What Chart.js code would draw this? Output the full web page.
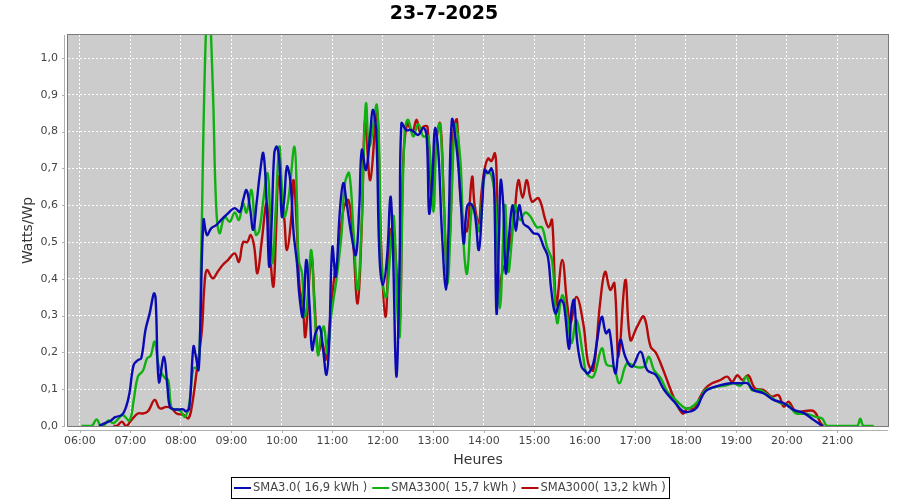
<!DOCTYPE html>
<html><head><meta charset="utf-8">
<script src="https://cdn.jsdelivr.net/npm/chart.js@4.4.1/dist/chart.umd.min.js"></script>
<style>html,body{margin:0;padding:0;background:#fff}#wrap{width:900px;height:500px}</style>
</head><body><div id="wrap"><canvas id="c" width="900" height="500"></canvas></div>
<script>
const chartTitle = "23-7-2025";
const xAxisTitle = "Heures";
const yAxisTitle = "Watts/Wp";
const hourTicks = ["06:00","07:00","08:00","09:00","10:00","11:00","12:00","13:00","14:00","15:00","16:00","17:00","18:00","19:00","20:00","21:00"];
const yTicks = [0,0.1,0.2,0.3,0.4,0.5,0.6,0.7,0.8,0.9,1.0];
const seriesNames = ["SMA3.0( 16,9 kWh )","SMA3300( 15,7 kWh )","SMA3000( 13,2 kWh )"];
const seriesColors = ["#0a0ab4","#10b010","#b40a0a"];

// [time, Watts/Wp]
const sma30 = [["06:23",0.00],["06:30",0.008],["06:37",0.015],["06:42",0.024],["06:50",0.03],["06:55",0.052],["06:59",0.089],["07:04",0.166],["07:09",0.179],["07:13",0.184],["07:18",0.261],["07:23",0.306],["07:28",0.36],["07:30",0.35],["07:34",0.12],["07:40",0.188],["07:44",0.11],["07:47",0.052],["07:52",0.045],["07:57",0.045],["08:03",0.045],["08:06",0.04],["08:10",0.048],["08:15",0.216],["08:18",0.188],["08:21",0.152],["08:23",0.26],["08:27",0.56],["08:31",0.519],["08:36",0.537],["08:42",0.546],["08:48",0.56],["08:56",0.578],["09:04",0.592],["09:10",0.582],["09:14",0.614],["09:18",0.641],["09:22",0.596],["09:26",0.533],["09:30",0.605],["09:34",0.687],["09:38",0.741],["09:42",0.605],["09:45",0.433],["09:48",0.56],["09:51",0.741],["09:54",0.759],["09:57",0.72],["10:00",0.569],["10:03",0.62],["10:06",0.705],["10:10",0.668],["10:14",0.524],["10:18",0.442],["10:21",0.351],["10:25",0.297],["10:29",0.451],["10:33",0.324],["10:36",0.207],["10:40",0.252],["10:45",0.27],["10:49",0.207],["10:53",0.139],["10:56",0.216],["11:00",0.487],["11:04",0.406],["11:09",0.587],["11:13",0.66],["11:17",0.605],["11:23",0.514],["11:28",0.465],["11:32",0.596],["11:35",0.75],["11:40",0.696],["11:45",0.795],["11:48",0.859],["11:52",0.804],["11:56",0.46],["12:00",0.383],["12:05",0.46],["12:09",0.623],["12:12",0.478],["12:16",0.134],["12:20",0.46],["12:22",0.822],["12:28",0.804],["12:34",0.804],["12:42",0.791],["12:48",0.81],["12:52",0.787],["12:55",0.578],["12:59",0.687],["13:02",0.809],["13:06",0.741],["13:10",0.533],["13:15",0.37],["13:18",0.533],["13:22",0.832],["13:27",0.768],["13:32",0.632],["13:36",0.496],["13:40",0.596],["13:44",0.605],["13:49",0.58],["13:54",0.478],["13:58",0.60],["14:01",0.696],["14:05",0.687],["14:09",0.70],["14:12",0.66],["14:15",0.306],["14:18",0.52],["14:20",0.668],["14:23",0.60],["14:26",0.415],["14:30",0.52],["14:34",0.60],["14:38",0.53],["14:42",0.60],["14:47",0.55],["14:53",0.54],["14:59",0.524],["15:05",0.52],["15:11",0.487],["15:16",0.46],["15:20",0.37],["15:25",0.306],["15:31",0.342],["15:35",0.33],["15:41",0.21],["15:44",0.315],["15:47",0.342],["15:51",0.225],["15:56",0.161],["16:00",0.15],["16:04",0.143],["16:10",0.17],["16:14",0.225],["16:20",0.297],["16:25",0.252],["16:29",0.261],["16:36",0.143],["16:42",0.234],["16:48",0.188],["16:56",0.161],["17:06",0.202],["17:14",0.152],["17:24",0.139],["17:34",0.098],["17:46",0.066],["17:57",0.039],["18:06",0.04],["18:13",0.05],["18:19",0.08],["18:25",0.098],["18:41",0.111],["18:53",0.116],["19:05",0.116],["19:13",0.116],["19:20",0.098],["19:32",0.089],["19:44",0.071],["19:56",0.062],["20:08",0.044],["20:20",0.035],["20:32",0.016],["20:42",0.0]];

const sma3300 = [["06:02",0],["06:14",0],["06:20",0.018],["06:25",0],["06:30",0.005],["06:34",0.015],["06:40",0.008],["06:46",0.02],["06:51",0.03],["06:59",0.015],["07:04",0.07],["07:09",0.134],["07:15",0.15],["07:20",0.184],["07:24",0.19],["07:29",0.229],["07:34",0.161],["07:41",0.13],["07:45",0.125],["07:49",0.048],["07:55",0.045],["08:00",0.04],["08:05",0.025],["08:10",0.06],["08:15",0.157],["08:21",0.16],["08:24",0.44],["08:29",1.01],["08:33",1.17],["08:38",0.92],["08:42",0.596],["08:46",0.524],["08:52",0.569],["08:58",0.555],["09:04",0.58],["09:09",0.56],["09:14",0.605],["09:18",0.58],["09:24",0.641],["09:29",0.52],["09:33",0.53],["09:38",0.614],["09:43",0.687],["09:46",0.578],["09:49",0.442],["09:53",0.60],["09:57",0.759],["10:00",0.65],["10:03",0.569],["10:08",0.62],["10:15",0.759],["10:18",0.605],["10:20",0.451],["10:24",0.415],["10:27",0.297],["10:30",0.33],["10:35",0.478],["10:39",0.31],["10:43",0.193],["10:46",0.24],["10:50",0.27],["10:54",0.197],["10:59",0.306],["11:05",0.40],["11:11",0.524],["11:15",0.66],["11:20",0.687],["11:25",0.533],["11:30",0.37],["11:34",0.506],["11:37",0.714],["11:40",0.877],["11:44",0.759],["11:53",0.87],["11:59",0.406],["12:04",0.351],["12:09",0.478],["12:13",0.569],["12:17",0.324],["12:20",0.243],["12:22",0.46],["12:26",0.804],["12:30",0.832],["12:36",0.787],["12:42",0.82],["12:48",0.787],["12:54",0.787],["13:00",0.582],["13:04",0.787],["13:08",0.82],["13:13",0.569],["13:17",0.388],["13:22",0.641],["13:26",0.82],["13:32",0.723],["13:36",0.49],["13:40",0.415],["13:46",0.60],["13:50",0.57],["13:55",0.53],["13:59",0.65],["14:03",0.69],["14:09",0.68],["14:14",0.60],["14:19",0.32],["14:25",0.60],["14:29",0.42],["14:33",0.50],["14:37",0.60],["14:43",0.56],["14:49",0.58],["14:55",0.57],["15:03",0.54],["15:09",0.54],["15:15",0.486],["15:21",0.45],["15:27",0.28],["15:33",0.355],["15:39",0.297],["15:44",0.225],["15:50",0.288],["15:58",0.188],["16:02",0.143],["16:10",0.134],["16:20",0.211],["16:26",0.166],["16:34",0.161],["16:41",0.116],["16:50",0.17],["17:00",0.161],["17:10",0.161],["17:16",0.188],["17:22",0.152],["17:30",0.13],["17:38",0.093],["17:46",0.075],["17:56",0.053],["18:02",0.047],["18:10",0.057],["18:17",0.075],["18:23",0.098],["18:29",0.102],["18:37",0.107],["18:47",0.11],["18:57",0.116],["19:05",0.11],["19:12",0.134],["19:18",0.098],["19:28",0.098],["19:40",0.08],["19:52",0.062],["20:02",0.057],["20:10",0.035],["20:24",0.033],["20:34",0.025],["20:42",0.02],["20:48",0],["21:23",0],["21:27",0.02],["21:31",0],["21:43",0]];

const sma3000 = [["06:40",0],["06:44",0],["06:50",0.012],["06:55",0],["07:01",0.015],["07:09",0.034],["07:15",0.034],["07:21",0.04],["07:29",0.071],["07:35",0.048],["07:43",0.052],["07:49",0.048],["07:55",0.034],["08:03",0.03],["08:09",0.021],["08:13",0.052],["08:19",0.152],["08:25",0.26],["08:28",0.38],["08:31",0.424],["08:38",0.401],["08:44",0.42],["08:50",0.438],["08:56",0.451],["09:04",0.469],["09:09",0.446],["09:14",0.50],["09:19",0.50],["09:23",0.519],["09:27",0.49],["09:31",0.415],["09:36",0.50],["09:42",0.605],["09:46",0.469],["09:50",0.379],["09:53",0.52],["09:56",0.677],["10:00",0.614],["10:03",0.56],["10:06",0.478],["10:11",0.56],["10:14",0.668],["10:18",0.53],["10:21",0.379],["10:25",0.324],["10:28",0.243],["10:35",0.46],["10:39",0.33],["10:43",0.20],["10:48",0.225],["10:52",0.18],["10:57",0.28],["11:03",0.42],["11:07",0.46],["11:13",0.587],["11:19",0.614],["11:24",0.524],["11:30",0.333],["11:35",0.551],["11:39",0.832],["11:45",0.668],["11:53",0.859],["11:57",0.551],["12:03",0.297],["12:09",0.533],["12:14",0.496],["12:20",0.279],["12:24",0.711],["12:29",0.822],["12:35",0.80],["12:40",0.832],["12:44",0.80],["12:48",0.813],["12:53",0.813],["12:58",0.605],["13:03",0.769],["13:08",0.822],["13:12",0.641],["13:16",0.433],["13:20",0.533],["13:24",0.804],["13:28",0.832],["13:32",0.62],["13:36",0.55],["13:40",0.53],["13:46",0.677],["13:49",0.60],["13:54",0.55],["13:57",0.63],["14:01",0.70],["14:05",0.727],["14:09",0.72],["14:13",0.741],["14:15",0.69],["14:18",0.36],["14:22",0.42],["14:27",0.45],["14:31",0.50],["14:36",0.57],["14:41",0.668],["14:46",0.62],["14:51",0.668],["14:57",0.61],["15:05",0.619],["15:13",0.56],["15:17",0.54],["15:21",0.56],["15:26",0.33],["15:33",0.451],["15:39",0.33],["15:43",0.279],["15:50",0.351],["15:58",0.279],["16:04",0.17],["16:10",0.152],["16:18",0.333],["16:24",0.419],["16:30",0.37],["16:35",0.388],["16:40",0.188],["16:48",0.397],["16:54",0.234],["17:02",0.27],["17:10",0.297],["17:18",0.216],["17:24",0.20],["17:30",0.17],["17:36",0.134],["17:46",0.075],["17:56",0.034],["18:02",0.048],["18:10",0.048],["18:17",0.08],["18:23",0.102],["18:31",0.116],["18:41",0.125],["18:49",0.134],["18:55",0.12],["19:01",0.138],["19:07",0.125],["19:14",0.138],["19:22",0.102],["19:32",0.098],["19:42",0.08],["19:50",0.084],["19:56",0.053],["20:02",0.066],["20:10",0.04],["20:20",0.04],["20:32",0.04],["20:40",0.008],["20:43",0]];

const xMin = "05:46", xMax = "22:00";
const yMax = 1.0625;

function toMin(t){ const p = t.split(":"); return (+p[0])*60 + (+p[1]); }
function fmtMin(m){ const h = Math.floor(m/60), mm = Math.round(m%60); return String(h).padStart(2,"0")+":"+String(mm).padStart(2,"0"); }
const toPoints = arr => arr.map(([t,v]) => ({x: toMin(t), y: v}));
const FONT = '"DejaVu Sans", Verdana, sans-serif';

const framePlugin = {
  id: 'frame',
  beforeDraw(chart){
    const {ctx, chartArea:a} = chart;
    ctx.save();
    ctx.fillStyle = '#cccccc';
    ctx.fillRect(a.left, a.top, a.right-a.left, a.bottom-a.top);
    ctx.restore();
  },
  afterDatasetsDraw(chart){
    const {ctx, chartArea:a, scales} = chart;
    ctx.save();
    ctx.lineWidth = 1;
    ctx.strokeStyle = '#7a7a7a';
    ctx.strokeRect(a.left-0.5, a.top-0.5, a.right-a.left+1, a.bottom-a.top+1);
    ctx.strokeStyle = '#b0b0b0';
    ctx.beginPath();
    ctx.moveTo(a.left-3.5, a.top); ctx.lineTo(a.left-3.5, a.bottom+1);
    ctx.moveTo(a.left, a.bottom+4.5); ctx.lineTo(a.right, a.bottom+4.5);
    yTicks.forEach(v => { const y = Math.round(scales.y.getPixelForValue(v))+0.5; ctx.moveTo(a.left-6, y); ctx.lineTo(a.left-3.5, y); });
    hourTicks.forEach(h => { const x = Math.round(scales.x.getPixelForValue(toMin(h)))+0.5; ctx.moveTo(x, a.bottom+4.5); ctx.lineTo(x, a.bottom+7); });
    ctx.stroke();
    ctx.restore();
  },
  afterDraw(chart){
    const {ctx} = chart;
    ctx.save();
    ctx.font = '11.5px ' + FONT;
    const lineLen = 17, gapT = 2, gapItem = 5, pad = 3;
    const widths = seriesNames.map(n => ctx.measureText(n).width);
    let total = pad*2;
    widths.forEach((w,i) => { total += lineLen + gapT + w + (i < widths.length-1 ? gapItem : 0); });
    const cx = 449.5, top = 477, h = 21;
    let x = Math.round(cx - total/2);
    ctx.fillStyle = '#fff';
    ctx.fillRect(x, top, total, h);
    ctx.strokeStyle = '#000'; ctx.lineWidth = 1;
    ctx.strokeRect(x+0.5, top+0.5, Math.round(total), h);
    let cur = x + pad;
    const my = top + h/2 + 0.5;
    ctx.textBaseline = 'middle';
    seriesNames.forEach((n,i) => {
      ctx.strokeStyle = seriesColors[i]; ctx.lineWidth = 2;
      ctx.beginPath(); ctx.moveTo(cur, my); ctx.lineTo(cur+lineLen, my); ctx.stroke();
      cur += lineLen + gapT;
      ctx.fillStyle = '#444';
      ctx.fillText(n, cur, my);
      cur += widths[i] + gapItem;
    });
    ctx.restore();
  }
};

const datasets = [sma30, sma3300, sma3000].map((s,i) => ({
  label: seriesNames[i],
  data: toPoints(s),
  borderColor: seriesColors[i],
  backgroundColor: seriesColors[i],
  borderWidth: 2.4,
  pointRadius: 0,
  tension: 0.4,
  fill: false
}));

new Chart(document.getElementById('c'), {
  type: 'line',
  data: { datasets },
  plugins: [framePlugin],
  options: {
    responsive: false,
    animation: false,
    devicePixelRatio: 1,
    layout: { padding: { left: 0, right: 12, top: 0, bottom: 0 } },
    plugins: {
      legend: { display: false },
      tooltip: { enabled: false },
      title: {
        display: true, text: chartTitle, color: '#000',
        font: { family: FONT, size: 19, weight: 'bold', lineHeight: 1.2 },
        padding: { top: 3, bottom: 9.2 }
      }
    },
    scales: {
      x: {
        type: 'linear', min: toMin(xMin), max: toMin(xMax),
        afterBuildTicks: sc => { sc.ticks = hourTicks.map(h => ({value: toMin(h)})); },
        afterFit: sc => { sc.height = 74; },
        ticks: { color: '#444', font: { family: FONT, size: 11 }, padding: 9, maxRotation: 0, autoSkip: false,
                 callback: v => fmtMin(v) },
        grid: { color: '#ffffff', lineWidth: 1, drawTicks: false },
        border: { display: false, dash: [2,2] },
        title: { display: true, text: xAxisTitle, color: '#333', font: { family: FONT, size: 14 }, padding: { top: 0, bottom: 31.6 } }
      },
      y: {
        min: 0, max: yMax,
        afterBuildTicks: sc => { sc.ticks = yTicks.map(v => ({value: v})); },
        afterFit: sc => { sc.width = 68; },
        ticks: { color: '#444', font: { family: FONT, size: 11 }, padding: 10,
                 callback: v => v.toFixed(1).replace('.', ',') },
        grid: { color: '#ffffff', lineWidth: 1, drawTicks: false },
        border: { display: false, dash: [2,2] },
        title: { display: true, text: yAxisTitle, color: '#333', font: { family: FONT, size: 14 }, padding: { top: 19.6, bottom: 0 } }
      }
    }
  }
});
</script></body></html>
